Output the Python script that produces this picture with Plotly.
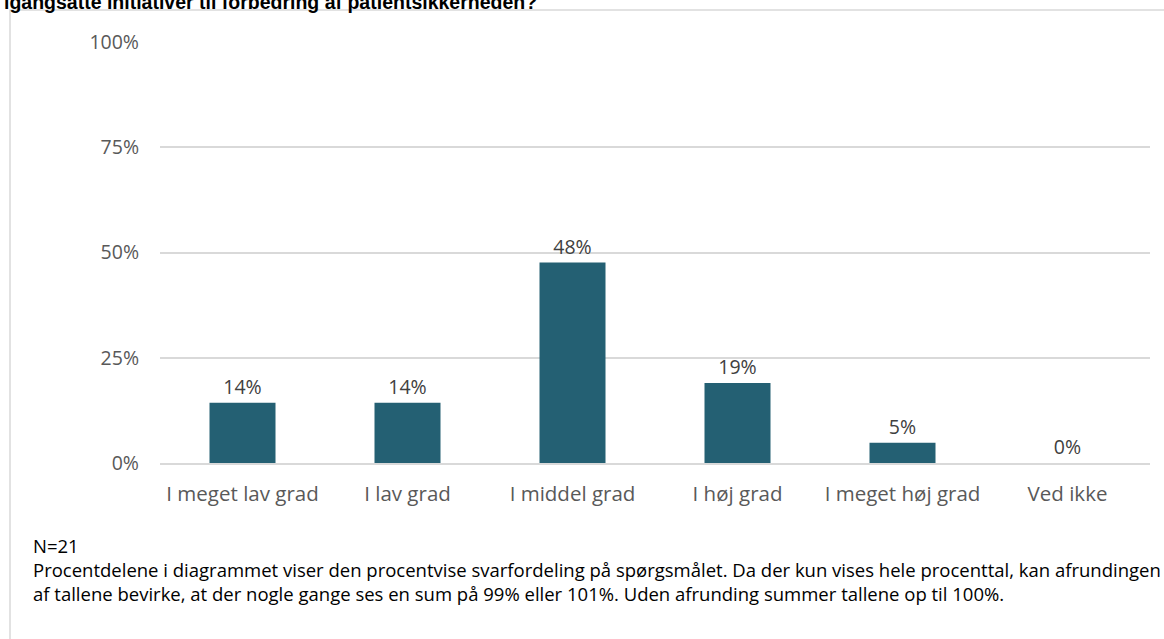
import plotly.graph_objects as go

W, H = 1164, 639

categories = ["I meget lav grad", "I lav grad", "I middel grad", "I høj grad", "I meget høj grad", "Ved ikke"]
shares = [14.3, 14.3, 47.6, 19.0, 4.8, 0.0]
share_labels = ["14%", "14%", "48%", "19%", "5%", "0%"]
y_ticks = [0, 25, 50, 75, 100]
y_tick_labels = ["0%", "25%", "50%", "75%", "100%"]

title_text = "igangsatte initiativer til forbedring af patientsikkerheden?"
note_n = "N=21"
note_lines = [
    "Procentdelene i diagrammet viser den procentvise svarfordeling på spørgsmålet. Da der kun vises hele procenttal, kan afrundingen",
    "af tallene bevirke, at der nogle gange ses en sum på 99% eller 101%. Uden afrunding summer tallene op til 100%.",
]

BAR = "#246073"
GRID = "#d9d9d9"
TICK = "#595959"
FONT = "Open Sans, Carlito, Calibri, sans-serif"

# plot area in pixels
L, R, T, B = 160, 1150, 42, 463


def px(x):
    return (x - L) / (R - L)


def py(y):
    return (B - y) / (B - T)


fig = go.Figure(
    go.Bar(
        x=categories,
        y=shares,
        text=share_labels,
        textposition="outside",
        cliponaxis=False,
        textfont=dict(size=19.5, color="#404040", family=FONT),
        marker=dict(color=BAR, line=dict(width=0)),
        hoverinfo="skip",
    )
)

# outer chart frame
fig.add_shape(
    type="rect", xref="paper", yref="paper",
    x0=px(10), x1=px(W + 40), y0=py(10), y1=py(H + 40),
    line=dict(color=GRID, width=1.5), fillcolor="rgba(0,0,0,0)", layer="below",
)

fig.add_annotation(
    x=px(2), y=py(15), xref="paper", yref="paper",
    xanchor="left", yanchor="bottom", showarrow=False,
    text=f"<b>{title_text}</b>",
    font=dict(size=19.5, color="#000000", family="Liberation Sans, Arial, sans-serif"),
)

fig.add_annotation(
    x=px(31), y=py(545), xref="paper", yref="paper",
    xanchor="left", yanchor="middle", showarrow=False,
    text=note_n, font=dict(size=18.5, color="#000000", family=FONT),
)
fig.add_annotation(
    x=px(31), y=py(581), xref="paper", yref="paper",
    xanchor="left", yanchor="middle", showarrow=False, align="left",
    text="<br>".join(note_lines), font=dict(size=18.5, color="#000000", family=FONT),
)

fig.update_layout(
    width=W,
    height=H,
    margin=dict(l=L, r=W - R, t=T, b=H - B, autoexpand=False),
    plot_bgcolor="#ffffff",
    paper_bgcolor="#ffffff",
    bargap=0.6,
    showlegend=False,
    font=dict(family=FONT),
    xaxis=dict(
        showgrid=False,
        showline=True,
        linecolor=GRID,
        linewidth=1.5,
        ticks="",
        tickfont=dict(size=20.5, color=TICK, family=FONT),
        ticklabelstandoff=12,
    ),
    yaxis=dict(
        range=[0, 100],
        tickmode="array",
        tickvals=y_ticks,
        ticktext=y_tick_labels,
        showgrid=True,
        gridcolor=GRID,
        gridwidth=1.5,
        zeroline=False,
        showline=False,
        ticks="",
        tickfont=dict(size=19.5, color=TICK, family=FONT),
        ticklabelstandoff=20,
    ),
)

fig.write_html(
    "out.html",
    config={"displayModeBar": False},
    post_script="document.body.style.margin='0';document.body.style.overflow='hidden';",
)
